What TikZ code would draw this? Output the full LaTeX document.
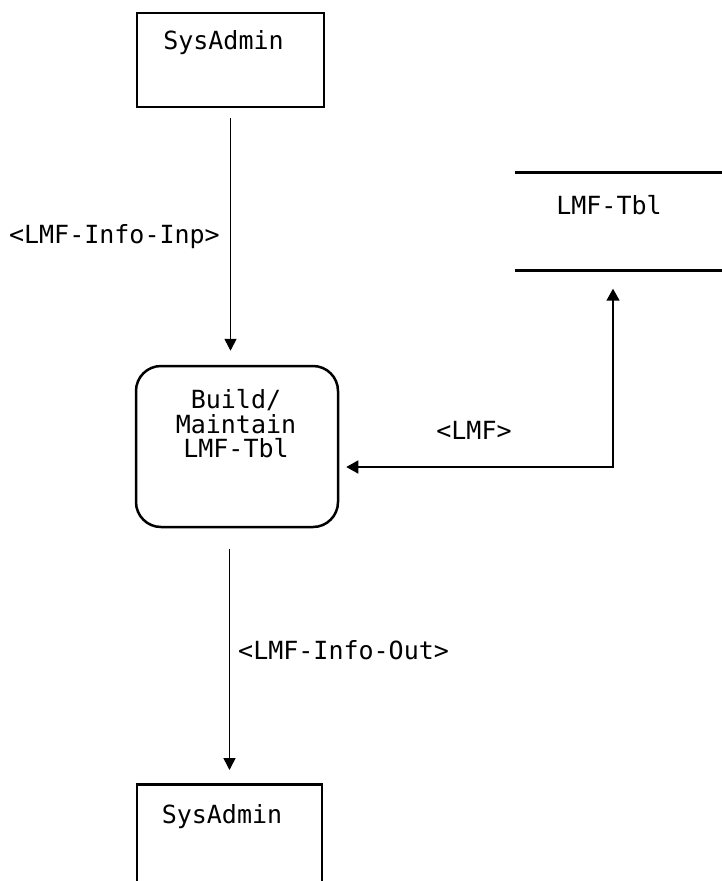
\documentclass[tikz,border=0pt]{standalone}
\usepackage{fontspec}
\setmonofont{DejaVu Sans Mono}
\usetikzlibrary{arrows.meta}
\begin{document}
\begin{tikzpicture}[x=1pt,y=-1pt,
  txt/.style={font=\ttfamily\fontsize{25}{24.5}\selectfont, inner sep=0pt},
  ebox/.style={draw, line width=2.5pt, inner sep=0pt},
  conn/.style={line width=1.5pt},
  tip/.style={-{Triangle[length=12pt,width=12pt]}},
  tips/.style={{Triangle[length=12pt,width=13pt]}-{Triangle[length=12pt,width=13pt]}}]
\clip (0,0) rectangle (722,881);
\fill[white] (0,0) rectangle (722,881);
% external entity (top)
\node[ebox, minimum width=187pt, minimum height=94pt] (sa1) at (230.5,60) {};
\node[txt] (sa1t) at (223.5,43) {SysAdmin};
% data store
\node[inner sep=0pt, minimum width=207pt, minimum height=98pt] (store) at (618.5,221.5) {};
\draw[line width=3pt] (store.north west) -- (store.north east);
\draw[line width=3pt] (store.south west) -- (store.south east);
\node[txt] (storet) at (609,205) {LMF-Tbl};
% process
\node[ebox, rounded corners=25pt, minimum width=202pt, minimum height=161pt] (proc) at (237,446.5) {};
\node[txt, align=center] (proct) at (236,424) {Build/\\Maintain\\LMF-Tbl};
% external entity (bottom)
\node[ebox, anchor=north, minimum width=185pt, minimum height=160pt] (sa2) at (229.5,783) {};
\node[txt] (sa2t) at (222,817) {SysAdmin};
% connectors
\draw[conn, tip, shorten <=10pt, shorten >=14pt] (sa1.south) -- (proc.north -| sa1.south);
\draw[conn, tips, shorten <=18pt, shorten >=7pt] ([xshift=-5.5pt]store.south) |- ([yshift=-20.5pt]proc.east);
\draw[conn, tip, shorten <=21pt, shorten >=13pt] (proc.south -| sa2.north) -- (sa2.north);
% labels
\node[txt, anchor=east] (linp) at (220,237) {<LMF-Info-Inp>};
\node[txt] (llmf) at (474,430) {<LMF>};
\node[txt, anchor=west] (lout) at (238,650) {<LMF-Info-Out>};
\end{tikzpicture}
\end{document}
